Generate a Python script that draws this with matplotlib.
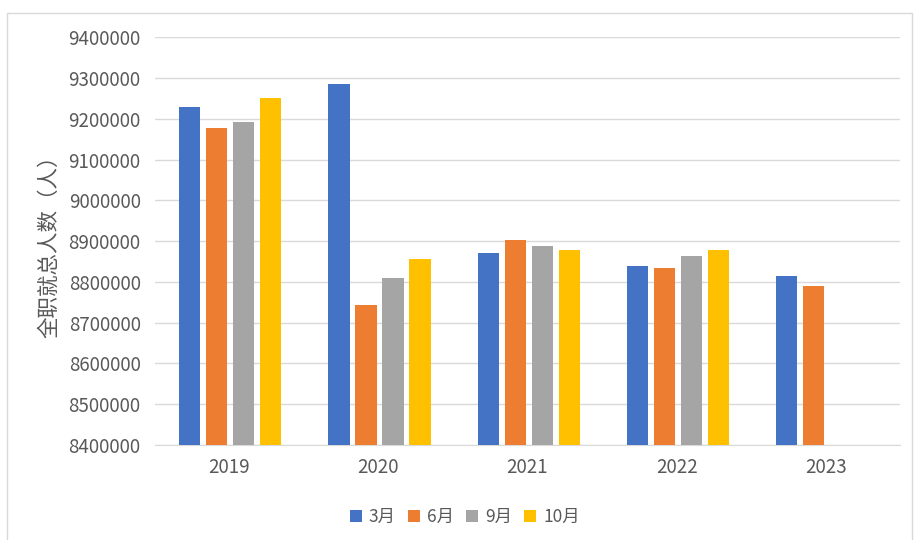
import numpy as np
import matplotlib as mpl
mpl.use('Agg')
import matplotlib.pyplot as plt
from matplotlib.patches import Rectangle

plt.rcParams['font.family'] = ['Noto Sans CJK SC', 'DejaVu Sans']

years = ['2019', '2020', '2021', '2022', '2023']
series = ['3月', '6月', '9月', '10月']
colors = ['#4472C4', '#ED7D31', '#A5A5A5', '#FFC000']

mar = [9228000, 9286000, 8871000, 8840000, 8814000]
jun = [9177000, 8744000, 8903000, 8835000, 8790000]
sep = [9193000, 8810000, 8887000, 8864000, np.nan]
oct_ = [9250000, 8857000, 8878000, 8879000, np.nan]
values = [mar, jun, sep, oct_]

text_color = '#595959'
grid_color = '#D9D9D9'

fig = plt.figure(figsize=(9.15, 5.4), dpi=100)
ax = fig.add_axes([0.169, 0.176, 0.815, 0.755])

# outer chart frame
fig.patches.append(Rectangle((7 / 915, -0.05), 905 / 915, 1 - 13 / 540 + 0.05,
                             transform=fig.transFigure, fill=False,
                             edgecolor='#D9D9D9', linewidth=1.0))

x = np.arange(len(years))
step = 0.181
width = 0.142
base = 8400000
for i, (name, vals, c) in enumerate(zip(series, values, colors)):
    vals = np.array(vals, dtype=float)
    ax.bar(x + (i - 1.5) * step + 0.008, vals - base, width, bottom=base,
           color=c, label=name, zorder=3)

ax.set_xlim(-0.5, len(years) - 0.5)
ax.set_ylim(8400000, 9400000)
ax.set_yticks(np.arange(8400000, 9400001, 100000))
ax.set_yticklabels([str(v) for v in range(8400000, 9400001, 100000)])
ax.set_xticks(x)
ax.set_xticklabels(years)

ax.grid(axis='y', color=grid_color, linewidth=1.0, zorder=0)
for s in ['top', 'right', 'left']:
    ax.spines[s].set_visible(False)
ax.spines['bottom'].set_color(grid_color)
ax.tick_params(axis='both', length=0, colors=text_color, labelsize=13.5)
ax.tick_params(axis='y', pad=10)
ax.tick_params(axis='x', pad=9)

ax.set_ylabel('全职就总人数（人）', fontsize=15.5, color=text_color, labelpad=6)

leg = fig.legend(loc='center', bbox_to_anchor=(0.508, 0.043), ncol=4,
                 frameon=False, fontsize=12.5, handlelength=0.7,
                 handleheight=0.7, handletextpad=0.4, columnspacing=0.7)
for t in leg.get_texts():
    t.set_color(text_color)

fig.savefig('out.png', dpi=100)
